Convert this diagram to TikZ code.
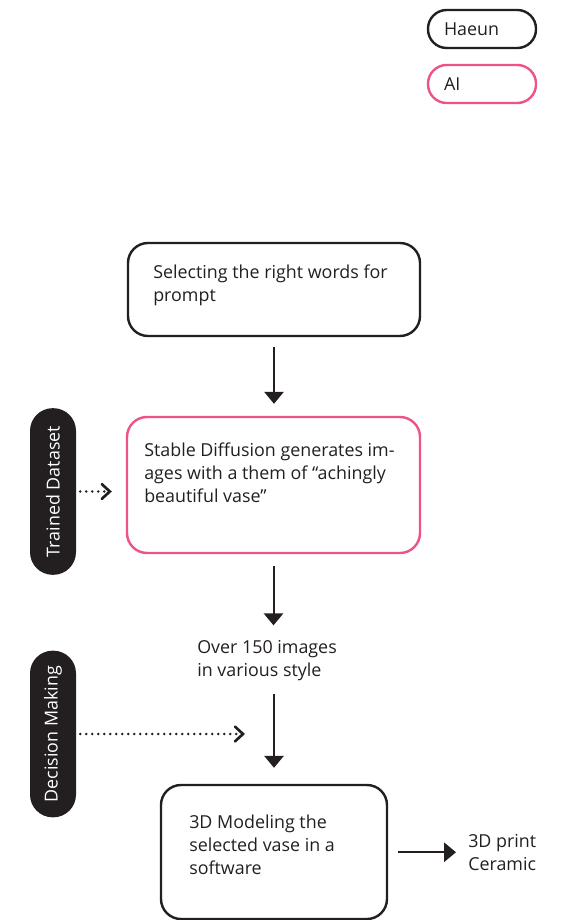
\documentclass[tikz,border=0pt]{standalone}
\usepackage{fontspec}
\setmainfont{Open Sans}
\usepackage{xcolor}
\usetikzlibrary{arrows.meta}
\definecolor{pink}{HTML}{EE5386}
\definecolor{ink}{HTML}{231F20}

\tikzset{
  flowbox/.style={draw=ink, line width=1.8pt, rounded corners=15pt},
  aibox/.style={flowbox, draw=pink},
  legendbox/.style={draw=ink, line width=1.8pt, rounded corners=14pt, minimum width=81pt, minimum height=28.5pt, text width=57pt, align=left, inner xsep=12pt, font=\fontsize{13.4}{17}\selectfont, text=ink},
  tagpill/.style={fill=ink, rounded corners=17pt, minimum width=125pt, minimum height=34.5pt, rotate=90, text=white, font=\fontsize{13.4}{17}\selectfont},
  txt/.style={anchor=north west, inner sep=0pt, align=left, text=ink, font=\fontsize{13.4}{17}\selectfont},
  flow/.style={draw=ink, line width=1.5pt, -{Triangle[width=14.5pt,length=9pt]}},
  hint/.style={draw=ink, line width=2pt, dash pattern=on 0pt off 4.5pt, line cap=round, -{Straight Barb[length=6pt,width=11pt,line cap=round]}}
}

\begin{document}
\begin{tikzpicture}[x=0.75pt,y=0.75pt,yscale=-1,xscale=1]
  \useasboundingbox (0,0) rectangle (565,920);
  \node [legendbox] (haeun) at (482,29) {Haeun};
  \node [legendbox, draw=pink] (ai) at (482,84) {AI};

  \node [flowbox, minimum width=219pt, minimum height=69.75pt] (select) at (274,289.5) {};
  \node [txt] (selecttxt) at (153,265) {Selecting the right words for\\prompt};

  \node [aibox, minimum width=219.75pt, minimum height=102pt] (stable) at (273.5,485) {};
  \node [txt] (stabletxt) at (144,443) {Stable Diffusion generates im-\\ages with a them of “achingly\\beautiful vase”};

  \node [txt] (imgs) at (197,640) {Over 150 images\\in various style};

  \node [flowbox, minimum width=169.5pt, minimum height=100.5pt] (model) at (274,852) {};
  \node [txt] (modeltxt) at (189,815) {3D Modeling the\\selected vase in a\\software};

  \node [txt] (print) at (468,834) {3D print\\Ceramic};

  \node [tagpill] (dataset) at (53,491.5) {Trained Dataset};
  \node [tagpill] (decide) at (53,734) {Decision Making};
  \coordinate (pick) at (245,733);

  \draw [flow, shorten <=7.5pt, shorten >=9pt] (select.south) -- (select.south |- stable.north);
  \draw [flow, shorten <=9pt, shorten >=11pt] (stable.south) -- (stable.south |- imgs.north);
  \draw [flow, shorten <=10pt, shorten >=12pt] (model.north |- imgs.south) -- (model.north);
  \draw [flow, shorten <=7.5pt, shorten >=9pt] (model.east |- print.west) -- (print.west);
  \draw [hint, shorten <=3pt, shorten >=10.5pt] (dataset.south) -- (dataset.south -| stable.west);
  \draw [hint, shorten <=3pt] (decide.south) -- (decide.south -| pick);
\end{tikzpicture}
\end{document}
